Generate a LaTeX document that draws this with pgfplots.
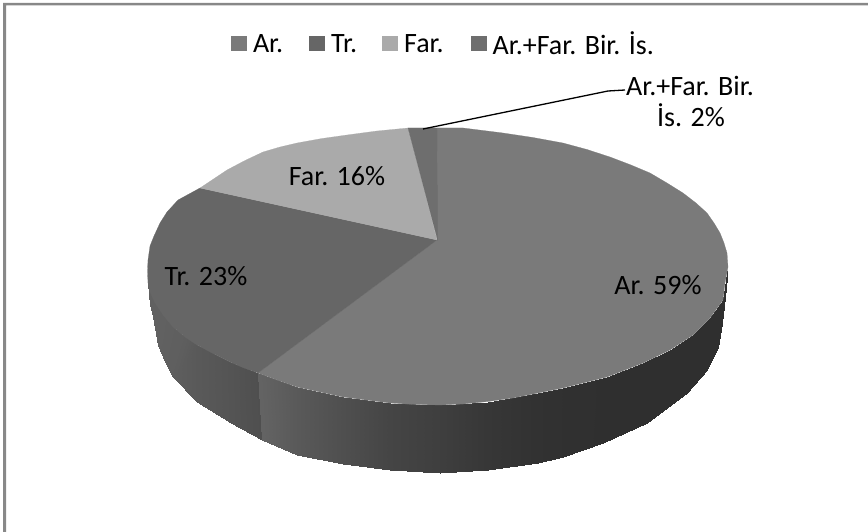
\documentclass[border=0pt]{standalone}
\usepackage{fontspec}
\setmainfont{Carlito}
\usepackage{pgfplots}
\pgfplotsset{compat=1.18}
\definecolor{arc}{HTML}{7A7A7A}
\definecolor{trc}{HTML}{666666}
\definecolor{farc}{HTML}{AAAAAA}
\definecolor{mixc}{HTML}{6E6E6E}
\definecolor{framec}{HTML}{888888}
\newcommand{\lab}{\fontsize{28}{33}\selectfont}
\begin{document}
\begin{tikzpicture}
\begin{axis}[
  width=868pt,height=532pt,scale only axis,
  xmin=0,xmax=868,ymin=0,ymax=532,y dir=reverse,
  axis lines=none,clip=true,
  legend columns=4,
  legend style={draw=none,fill=none,at={(axis cs:231,44)},anchor=west,font=\lab,
    inner sep=0pt,outer sep=0pt,
    /tikz/every odd column/.append style={column sep=4pt},
    /tikz/column 2/.style={column sep=24pt},
    /tikz/column 4/.style={column sep=23pt},
    /tikz/column 6/.style={column sep=25pt}},
  legend image code/.code={\fill[#1,draw=none] (0pt,-7.5pt) rectangle (16pt,8pt);},
  colormap={bw}{gray(0cm)=(0); gray(1cm)=(1)},
  point meta min=0,point meta max=1,
]
% page extent
\addplot[forget plot,draw=none] coordinates {(0,0)(868,0)(868,532)(0,532)} --cycle;
% frame
\addplot[forget plot,draw=none,fill=framec] coordinates {(3,3)(868,3)(868,5.5)(6,5.5)(6,532)(3,532)} --cycle;
% sides, as patches with grey levels
\addplot[forget plot,patch,patch type=rectangle,shader=interp,point meta=explicit] table[meta=c] {
x y c
148 283 .38
150 305 .38
153 317 .38
155 303 .38
155 303 .38
153 317 .38
158 345 .38
163 315 .38
163 315 .38
158 345 .38
165 362 .375
173 327 .375
173 327 .375
165 362 .375
173 377 .37
185 337 .37
185 337 .37
173 377 .37
197 402 .35
197 345 .35
197 345 .35
197 402 .35
231 423 .33
230 362 .33
230 362 .33
231 423 .33
262 440 .31
258 373 .31
258 373 .39
262 440 .39
297 454.5 .35
297 387 .35
297 387 .35
297 454.5 .35
343 464 .31
343 397 .31
343 397 .31
343 464 .31
390 470 .27
390 403 .27
390 403 .27
390 470 .27
440 473 .245
440 405 .245
440 405 .245
440 473 .245
488 470 .215
488 401.5 .215
488 401.5 .215
488 470 .215
538 462.5 .195
538 393 .195
538 393 .195
538 462.5 .195
563 457 .19
563 388 .19
563 388 .19
563 457 .19
603 443 .185
607 377 .185
607 377 .185
603 443 .185
647 423 .185
643 363 .185
643 363 .185
647 423 .185
687 393 .185
670 350 .185
670 350 .185
687 393 .185
707 370 .185
693 335 .185
693 335 .185
707 370 .185
718 347 .185
710 318 .185
710 318 .185
718 347 .185
722 323 .185
723 300 .185
723 300 .185
722 323 .185
725 297 .185
728 267 .185
};
% top surfaces
\addplot[fill=arc,draw=arc,line width=0.2pt] coordinates {(437,240)(437.5,128)(463,128)(503,133)(533,137.5)(563,143)(587,149.5)(610,157)(631,165)(650,173)(667,183)(683,193)(696,203)(707,213)(714,223)(720,233)(724,243)(727,253)(728,267)(725,283)(723,300)(710,318)(693,335)(670,350)(643,363)(607,377)(563,388)(538,393)(513,398)(488,401.5)(463,404)(440,405)(415,404.5)(390,403)(366,400)(343,397)(320,392)(297,387)(277,380)(258,373)} --cycle;
\addlegendentry{Ar.}
\addplot[fill=trc,draw=trc,line width=0.2pt] coordinates {(437,240)(258,373)(244,368)(230,362)(214,354)(197,345)(185,337)(173,327)(163,315)(155,303)(150,292)(148,283)(147.5,271)(148,260)(150,246)(154,236)(160,223)(167,212)(178,200)(200,188)} --cycle;
\addlegendentry{Tr.}
\addplot[fill=farc,draw=farc,line width=0.2pt] coordinates {(437,240)(200,188)(227,170)(245,160.5)(263,152)(280,147)(297,143)(322,138.5)(347,135)(377,131)(408,128)} --cycle;
\addlegendentry{Far.}
\addplot[fill=mixc,draw=mixc,line width=0.2pt] coordinates {(437.5,240)(408,128)(437.5,128)} --cycle;
\addlegendentry{Ar.+Far. Bir. İs.}
% leader
\addplot[forget plot,black,line width=1.3pt] coordinates {(423,129)(608,91)(625,90)};
\node[font=\lab,anchor=center] at (axis cs:337,176) {Far. 16\%};
\node[font=\lab,anchor=center] at (axis cs:206,276) {Tr. 23\%};
\node[font=\lab,anchor=center] at (axis cs:658,285) {Ar. 59\%};
\node[font=\lab,anchor=center] at (axis cs:690,86) {Ar.+Far. Bir.};
\node[font=\lab,anchor=center] at (axis cs:691,115) {İs. 2\%};
\end{axis}
\end{tikzpicture}
\end{document}
